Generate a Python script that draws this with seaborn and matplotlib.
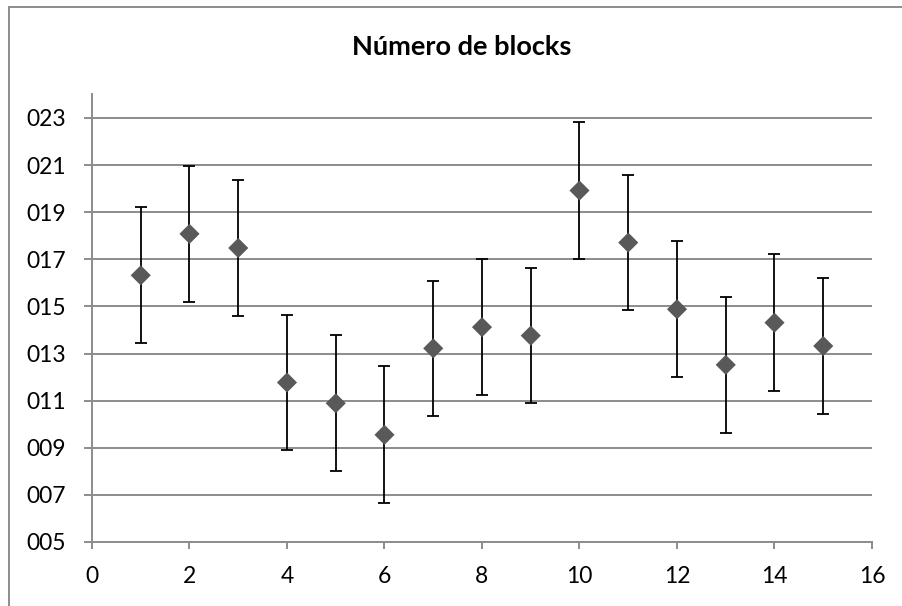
import matplotlib
matplotlib.use("Agg")
import matplotlib.pyplot as plt
from matplotlib.patches import Rectangle
import seaborn as sns
import pandas as pd

# Data
x_values = [1, 2, 3, 4, 5, 6, 7, 8, 9, 10, 11, 12, 13, 14, 15]
y_values = [16.32, 18.08, 17.48, 11.77, 10.89, 9.55, 13.22, 14.12, 13.76,
            19.92, 17.71, 14.88, 12.52, 14.31, 13.32]
y_errors = [2.89, 2.89, 2.89, 2.88, 2.89, 2.90, 2.88, 2.90, 2.88,
            2.90, 2.88, 2.88, 2.88, 2.90, 2.88]
title_text = "Número de blocks"
y_ticks = [5, 7, 9, 11, 13, 15, 17, 19, 21, 23]
y_tick_labels = ["005", "007", "009", "011", "013", "015", "017", "019", "021", "023"]
x_ticks = [0, 2, 4, 6, 8, 10, 12, 14, 16]
x_tick_labels = ["0", "2", "4", "6", "8", "10", "12", "14", "16"]

df = pd.DataFrame({"x": x_values, "y": y_values, "err": y_errors})

sns.set_theme(style="white")
plt.rcParams["font.family"] = ["Lato", "DejaVu Sans"]

W, H = 903, 606
fig = plt.figure(figsize=(W / 100, H / 100), dpi=100)
fig.patch.set_facecolor("white")

ax_left, ax_right = 92, 872
ax_top, ax_bottom = 94.4, 542
ax = fig.add_axes([ax_left / W, 1 - ax_bottom / H,
                   (ax_right - ax_left) / W, (ax_bottom - ax_top) / H])

grid_color = "#8c8c8c"
for yt in y_ticks:
    ax.axhline(yt, color=grid_color, lw=1.4, zorder=0)

ax.errorbar(df["x"], df["y"], yerr=df["err"], fmt="none", ecolor="black",
            elinewidth=1.3, capsize=4.3, capthick=1.3, zorder=2)
sns.scatterplot(data=df, x="x", y="y", marker="D", s=105, color="#595959",
                edgecolor="none", linewidth=0, ax=ax, zorder=3, legend=False)

ax.set_xlim(0, 16)
ax.set_ylim(5, 24)
ax.set_xticks(x_ticks)
ax.set_xticklabels(x_tick_labels)
ax.set_yticks(y_ticks)
ax.set_yticklabels(y_tick_labels)
ax.set_xlabel("")
ax.set_ylabel("")

for side in ["top", "right"]:
    ax.spines[side].set_visible(False)
for side in ["left", "bottom"]:
    ax.spines[side].set_color(grid_color)
    ax.spines[side].set_linewidth(1.4)

ax.tick_params(axis="x", which="major", direction="out", length=5, width=1.4,
               color=grid_color, labelsize=16.5, labelcolor="black", pad=12,
               bottom=True)
ax.tick_params(axis="y", which="major", direction="out", length=6, width=1.4,
               color=grid_color, labelsize=16.5, labelcolor="black", pad=13,
               left=True)

fig.text(462 / W, 1 - 47 / H, title_text, ha="center", va="center",
         fontsize=19.5, fontweight="bold", color="black")

# outer chart border (only top and left visible in the reference)
border = Rectangle((9 / W, -0.1), 1.2, 1 - 7 / H + 0.1, transform=fig.transFigure,
                   fill=False, edgecolor="#8c8c8c", lw=1.4)
fig.patches.append(border)

fig.savefig("out.png", dpi=100, facecolor="white")
